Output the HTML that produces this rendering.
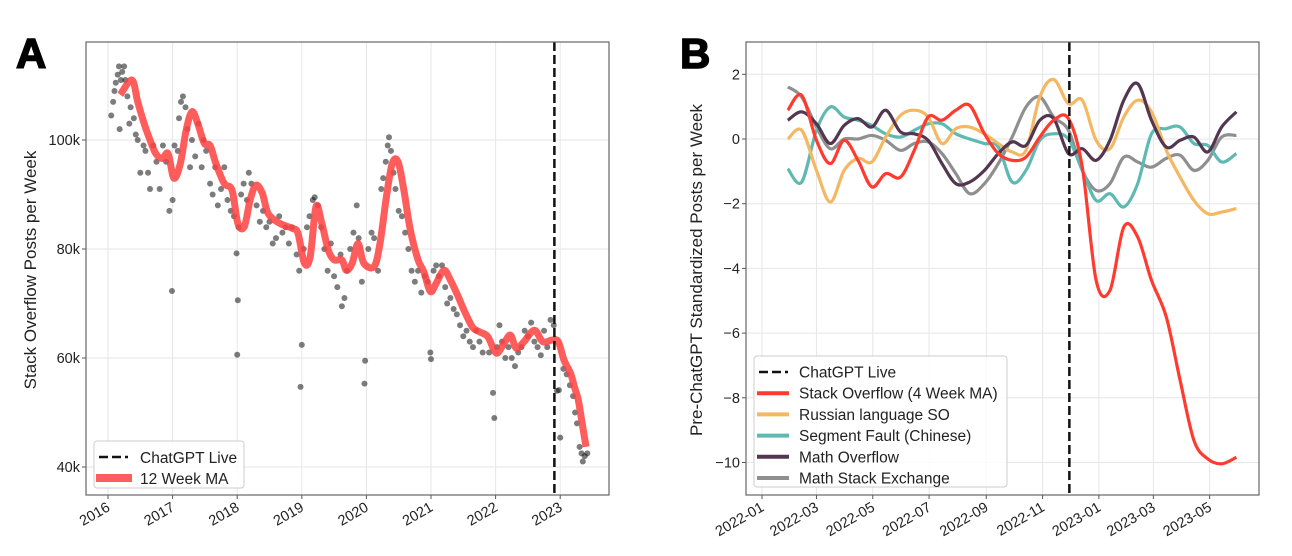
<!DOCTYPE html>
<html><head><meta charset="utf-8"><style>
body{margin:0;background:#fff;}
svg{display:block;font-family:"Liberation Sans","DejaVu Sans",sans-serif;}
.tick{font-size:14.5px;fill:#222;}
</style></head><body>
<svg id="chart" width="1292" height="556" viewBox="0 0 1292 556"></svg>
<script>
// Panel A data
const aYears=[2016.19,2016.37,2016.46,2016.56,2016.65,2016.74,2016.84,2016.93,2017.02,2017.12,2017.21,2017.30,2017.39,2017.49,2017.58,2017.67,2017.80,2017.92,2018.01,2018.11,2018.20,2018.29,2018.39,2018.48,2018.66,2018.85,2018.94,2019.04,2019.13,2019.22,2019.31,2019.41,2019.50,2019.62,2019.69,2019.78,2019.87,2019.96,2020.12,2020.21,2020.31,2020.40,2020.49,2020.58,2020.68,2020.80,2020.89,2020.99,2021.08,2021.20,2021.30,2021.42,2021.51,2021.64,2021.75,2021.88,2022.01,2022.13,2022.23,2022.32,2022.44,2022.60,2022.73,2022.88,2022.97,2023.06,2023.16,2023.22,2023.28,2023.34,2023.40];
const aMA=[108.3,111,107,103,100,97.5,96.6,97.5,93,95.7,101.8,105.2,103,99.4,99,95.7,92,90.8,84.7,84.1,89,91.7,90.2,86.5,84.7,83.8,82.9,77.4,78.6,87.8,84.7,79.8,78,78,76.1,77.4,81,77.4,76.8,81,89.6,95.7,96,90.8,83.5,78,75.8,72.2,73.7,76.1,74.3,71.3,68.8,65.7,64.8,63.9,60.9,62.7,64.2,61.8,63,65.1,63,63.3,63,59.6,57.2,54.7,52.3,48,43.7];
const sYears=[2016.05,2016.08,2016.1,2016.12,2016.15,2016.17,2016.2,2016.22,2016.25,2016.27,2016.18,2016.3,2016.33,2016.35,2016.4,2016.43,2016.46,2016.5,2016.55,2016.58,2016.62,2016.65,2016.7,2016.75,2016.8,2016.85,2016.9,2016.95,2016.99,2017.0,2017.03,2017.08,2017.1,2017.13,2017.16,2017.2,2017.23,2017.27,2017.3,2017.35,2017.4,2017.45,2017.48,2017.52,2017.58,2017.62,2017.66,2017.7,2017.75,2017.8,2017.85,2017.9,2017.95,2017.99,2018.0,2018.01,2018.02,2018.06,2018.1,2018.15,2018.18,2018.22,2018.3,2018.35,2018.4,2018.45,2018.5,2018.55,2018.6,2018.65,2018.7,2018.75,2018.8,2018.85,2018.92,2018.96,2018.98,2019.0,2019.03,2019.08,2019.12,2019.17,2019.2,2019.25,2019.3,2019.35,2019.4,2019.45,2019.5,2019.55,2019.6,2019.62,2019.66,2019.7,2019.75,2019.8,2019.85,2019.88,2019.93,2019.97,2019.98,2020.03,2020.08,2020.12,2020.18,2020.23,2020.26,2020.3,2020.33,2020.35,2020.38,2020.42,2020.45,2020.5,2020.55,2020.6,2020.65,2020.7,2020.75,2020.8,2020.85,2020.9,2020.95,2020.99,2021.0,2021.04,2021.08,2021.12,2021.17,2021.22,2021.25,2021.3,2021.35,2021.4,2021.45,2021.5,2021.55,2021.6,2021.65,2021.7,2021.75,2021.8,2021.9,2021.96,2021.98,2022.02,2022.06,2022.1,2022.15,2022.2,2022.25,2022.3,2022.35,2022.4,2022.45,2022.5,2022.55,2022.6,2022.65,2022.7,2022.75,2022.8,2022.85,2022.9,2022.95,2022.98,2023.0,2023.05,2023.1,2023.15,2023.2,2023.23,2023.26,2023.3,2023.33,2023.35,2023.38,2023.42];
const sVals=[104.5,107,109,110.5,112,113.5,111,112.5,113.5,111,102,108,103,106,104,101,100,94,99,98,94,91,99,96,91,99,96,87,72.3,89,99,98,104,107,108,106,102,95,100,97,103,95,100,98,92,90,95,88,91,95,89,87,86,79.2,60.6,70.6,84,90,92,89,94,92,88,85,87,84,85,81,82,86,83,84,81,84,79,76,54.7,62.4,80,84,86,89,89.5,88,84,80,76,81,75,73,79,69.5,71,76,80,83,88,82,74,55.3,59.5,80,83,82,76,91,93,96,99,100.5,98,94,91,87,86,83,80,76,74,76,72,75,74,61,59.8,76,77,75,77,73,70,71,69,68,66,64,65,63,62,65,63,61,61,53.6,49,62,66,63,60,62,60,58.5,61,62,65,64,66.5,63,62,60.5,65,62,67,66,54,54.1,45.4,58,57,55,53,50,48,43.7,42.5,41,42,42.5];
const aYTicks=[40,60,80,100];
const aYTickLabels=["40k","60k","80k","100k"];
const aXTicks=[2016,2017,2018,2019,2020,2021,2022,2023];
const aChatGPT=2022.91;
// Panel B data (days since 2022-01-01)
const bDays=[28,43,59,74,89,104,119,134,150,165,180,195,210,225,241,256,271,286,301,316,332,347,362,377,392,407,422,438,453,468,483,498,514];
const bStackOverflow=[0.89,1.35,-0.04,-0.76,-0.04,-0.66,-1.48,-1.07,-1.18,-0.35,0.68,0.58,0.89,1.04,0.16,-0.45,-0.66,-0.56,0.06,0.58,0.63,-0.87,-4.37,-4.68,-2.72,-3.03,-4.37,-5.5,-7.46,-9.32,-9.89,-10.04,-9.84];
const bRussian=[0,0.27,-0.97,-1.95,-0.97,-0.6,-0.71,0.06,0.73,0.89,0.68,-0.14,0.32,0.37,0.16,-0.14,-0.4,-0.35,1.3,1.84,1.09,1.2,-0.04,-0.3,0.68,1.2,0.84,-0.35,-1.18,-1.9,-2.31,-2.26,-2.15];
const bSegment=[-0.92,-1.33,0.27,0.99,0.68,0.58,0.42,0.16,0.06,0.27,0.47,0.47,0.16,0,-0.14,-0.25,-1.33,-0.97,-0.04,0.16,0,-0.97,-1.9,-1.69,-2.1,-1.38,0.16,0.32,0.37,-0.14,-0.2,-0.71,-0.45];
const bMathOverflow=[0.58,0.84,0.47,-0.14,0.42,0.63,0.37,0.89,0.22,0.16,-0.04,-0.76,-1.38,-1.33,-0.97,-0.45,-0.09,-0.2,0.58,0.63,-0.45,-0.3,-0.66,-0.04,1.2,1.71,0.58,-0.25,-0.04,0.06,-0.4,0.37,0.84];
const bMathSE=[1.61,1.3,0.37,-0.3,0,0,0.11,-0.04,-0.35,-0.14,-0.09,-0.45,-1.07,-1.69,-1.38,-0.76,0.06,0.99,1.3,0.68,0.27,-0.97,-1.59,-1.38,-0.56,-0.71,-0.87,-0.6,-0.5,-0.97,-0.66,0.06,0.11];
const bYTicks=[-10,-8,-6,-4,-2,0,2];
const bYTickLabels=["\u221210","\u22128","\u22126","\u22124","\u22122","0","2"];
const bXTickDays=[0,59,120,181,243,304,365,424,485];
const bXTickLabels=["2022-01","2022-03","2022-05","2022-07","2022-09","2022-11","2023-01","2023-03","2023-05"];
const bChatGPT=333;

const NS="http://www.w3.org/2000/svg";
const svg=document.getElementById('chart');
function mk(tag,attrs,parent){const e=document.createElementNS(NS,tag);for(const k in attrs)e.setAttribute(k,attrs[k]);(parent||svg).appendChild(e);return e;}
function smooth(pts){
  let d='M'+pts[0][0]+','+pts[0][1];
  for(let i=0;i<pts.length-1;i++){
    const p0=pts[Math.max(0,i-1)],p1=pts[i],p2=pts[i+1],p3=pts[Math.min(pts.length-1,i+2)];
    const c1x=p1[0]+(p2[0]-p0[0])/6,c1y=p1[1]+(p2[1]-p0[1])/6;
    const c2x=p2[0]-(p3[0]-p1[0])/6,c2y=p2[1]-(p3[1]-p1[1])/6;
    d+=` C${c1x},${c1y} ${c2x},${c2y} ${p2[0]},${p2[1]}`;
  }
  return d;
}

const A={l:86,r:609,t:42,b:495};
const ax=y=>108+(y-2016)*64.6;
const ay=v=>467-(v-40)*109/20;
const B={l:746,r:1259,t:42,b:495};
const bx=d=>762+d*0.923;
const by=v=>139-v*64.7/2;

function panel(name){
  const g=mk('g',{});
  
  
  return g;
}
const gA=panel('panel-a');
aYTicks.forEach((v,i)=>{
  const l=mk('line',{x1:A.l,x2:A.r,y1:ay(v),y2:ay(v),stroke:'#e6e6e6','stroke-width':1},gA);
  
  mk('line',{x1:A.l-4,x2:A.l,y1:ay(v),y2:ay(v),stroke:'#555'},gA);
  const t=mk('text',{x:A.l-6,y:ay(v)+5,'text-anchor':'end',class:'tick'},gA);t.textContent=aYTickLabels[i];
  
});
aXTicks.forEach(y=>{
  const l=mk('line',{x1:ax(y),x2:ax(y),y1:A.t,y2:A.b,stroke:'#e6e6e6'},gA);
  
  mk('line',{x1:ax(y),x2:ax(y),y1:A.b,y2:A.b+4,stroke:'#555'},gA);
  const t=mk('text',{x:0,y:0,'text-anchor':'end',class:'tick',transform:`translate(${ax(y)+3},${A.b+15}) rotate(-30)`},gA);t.textContent=y;
  
});
sYears.forEach((y,i)=>{
  const c=mk('circle',{cx:ax(y),cy:ay(sVals[i]),r:3,fill:'#111','fill-opacity':0.55},gA);
  
});
const ma=mk('path',{d:smooth(aYears.map((y,i)=>[ax(y),ay(aMA[i])])),fill:'none',stroke:'#ff4040','stroke-opacity':0.85,'stroke-width':7,'stroke-linejoin':'round'},gA);

const dA=mk('line',{x1:ax(aChatGPT),x2:ax(aChatGPT),y1:A.t,y2:A.b,stroke:'#111','stroke-width':2.5,'stroke-dasharray':'9,4'},gA);

mk('rect',{x:A.l,y:A.t,width:A.r-A.l,height:A.b-A.t,fill:'none',stroke:'#666','stroke-width':1.2},gA);

const gB=panel('panel-b');
bYTicks.forEach((v,i)=>{
  const l=mk('line',{x1:B.l,x2:B.r,y1:by(v),y2:by(v),stroke:'#e6e6e6'},gB);
  
  mk('line',{x1:B.l-4,x2:B.l,y1:by(v),y2:by(v),stroke:'#555'},gB);
  const t=mk('text',{x:B.l-6,y:by(v)+5,'text-anchor':'end',class:'tick'},gB);t.textContent=bYTickLabels[i];
  
});
bXTickDays.forEach((d,i)=>{
  const l=mk('line',{x1:bx(d),x2:bx(d),y1:B.t,y2:B.b,stroke:'#e6e6e6'},gB);
  
  mk('line',{x1:bx(d),x2:bx(d),y1:B.b,y2:B.b+4,stroke:'#555'},gB);
  const t=mk('text',{x:0,y:0,'text-anchor':'end',class:'tick',transform:`translate(${bx(d)+3},${B.b+15}) rotate(-30)`},gB);t.textContent=bXTickLabels[i];
  
});
const seriesB=[
  ['math-stack-exchange-line',bMathSE,'#8f8f8f'],
  ['segment-fault-line',bSegment,'#5fb9b3'],
  ['russian-so-line',bRussian,'#f4b862'],
  ['math-overflow-line',bMathOverflow,'#533750'],
  ['stack-overflow-line',bStackOverflow,'#ff3b30']
];
seriesB.forEach(s=>{
  const p=mk('path',{d:smooth(bDays.map((d,i)=>[bx(d),by(s[1][i])])),fill:'none',stroke:s[2],'stroke-width':3.2,'stroke-linejoin':'round'},gB);
  
});
const dB=mk('line',{x1:bx(bChatGPT),x2:bx(bChatGPT),y1:B.t,y2:B.b,stroke:'#111','stroke-width':2.5,'stroke-dasharray':'9,4'},gB);

mk('rect',{x:B.l,y:B.t,width:B.r-B.l,height:B.b-B.t,fill:'none',stroke:'#666','stroke-width':1.2},gB);
</script>
<script>
(function(){
const NS="http://www.w3.org/2000/svg";const svg=document.getElementById('chart');
function mk(tag,attrs){const e=document.createElementNS(NS,tag);for(const k in attrs)e.setAttribute(k,attrs[k]);svg.appendChild(e);return e;}
let t=mk('text',{x:16,y:68,'font-size':42,'font-weight':'bold',fill:'#000',stroke:'#000','stroke-width':1.5});t.textContent='A';

t=mk('text',{x:680,y:68,'font-size':42,'font-weight':'bold',fill:'#000',stroke:'#000','stroke-width':1.5});t.textContent='B';

t=mk('text',{x:0,y:0,'font-size':17,fill:'#222','text-anchor':'middle',transform:'translate(36,270) rotate(-90)'});t.textContent='Stack Overflow Posts per Week';

t=mk('text',{x:0,y:0,'font-size':17,fill:'#222','text-anchor':'middle',transform:'translate(702,270) rotate(-90)'});t.textContent='Pre-ChatGPT Standardized Posts per Week';

let r=mk('rect',{x:94,y:441,width:150,height:47,fill:'#fff','fill-opacity':0.85,stroke:'#ccc',rx:3});

mk('line',{x1:99,x2:128,y1:457,y2:457,stroke:'#111','stroke-width':2.5,'stroke-dasharray':'9,4'});
mk('line',{x1:96,x2:132,y1:478,y2:478,stroke:'#ff4040','stroke-opacity':0.85,'stroke-width':8});
t=mk('text',{x:140,y:463,'font-size':15.5,fill:'#222'});t.textContent='ChatGPT Live';

t=mk('text',{x:140,y:484,'font-size':15.5,fill:'#222'});t.textContent='12 Week MA';

r=mk('rect',{x:754,y:356,width:253,height:131,fill:'#fff','fill-opacity':0.85,stroke:'#ccc',rx:3});

const items=[['ChatGPT Live','#111',true],['Stack Overflow (4 Week MA)','#ff3b30'],['Russian language SO','#f4b862'],['Segment Fault (Chinese)','#5fb9b3'],['Math Overflow','#533750'],['Math Stack Exchange','#8f8f8f']];
items.forEach((it,i)=>{
  const y=372+i*21.2;
  if(it[2]) mk('line',{x1:759,x2:788,y1:y,y2:y,stroke:it[1],'stroke-width':2.5,'stroke-dasharray':'9,4'});
  else mk('line',{x1:757,x2:789,y1:y,y2:y,stroke:it[1],'stroke-width':4});
  const tt=mk('text',{x:799,y:y+5.5,'font-size':15.5,fill:'#222'});tt.textContent=it[0];
  
});
})();
</script>
</body></html>
